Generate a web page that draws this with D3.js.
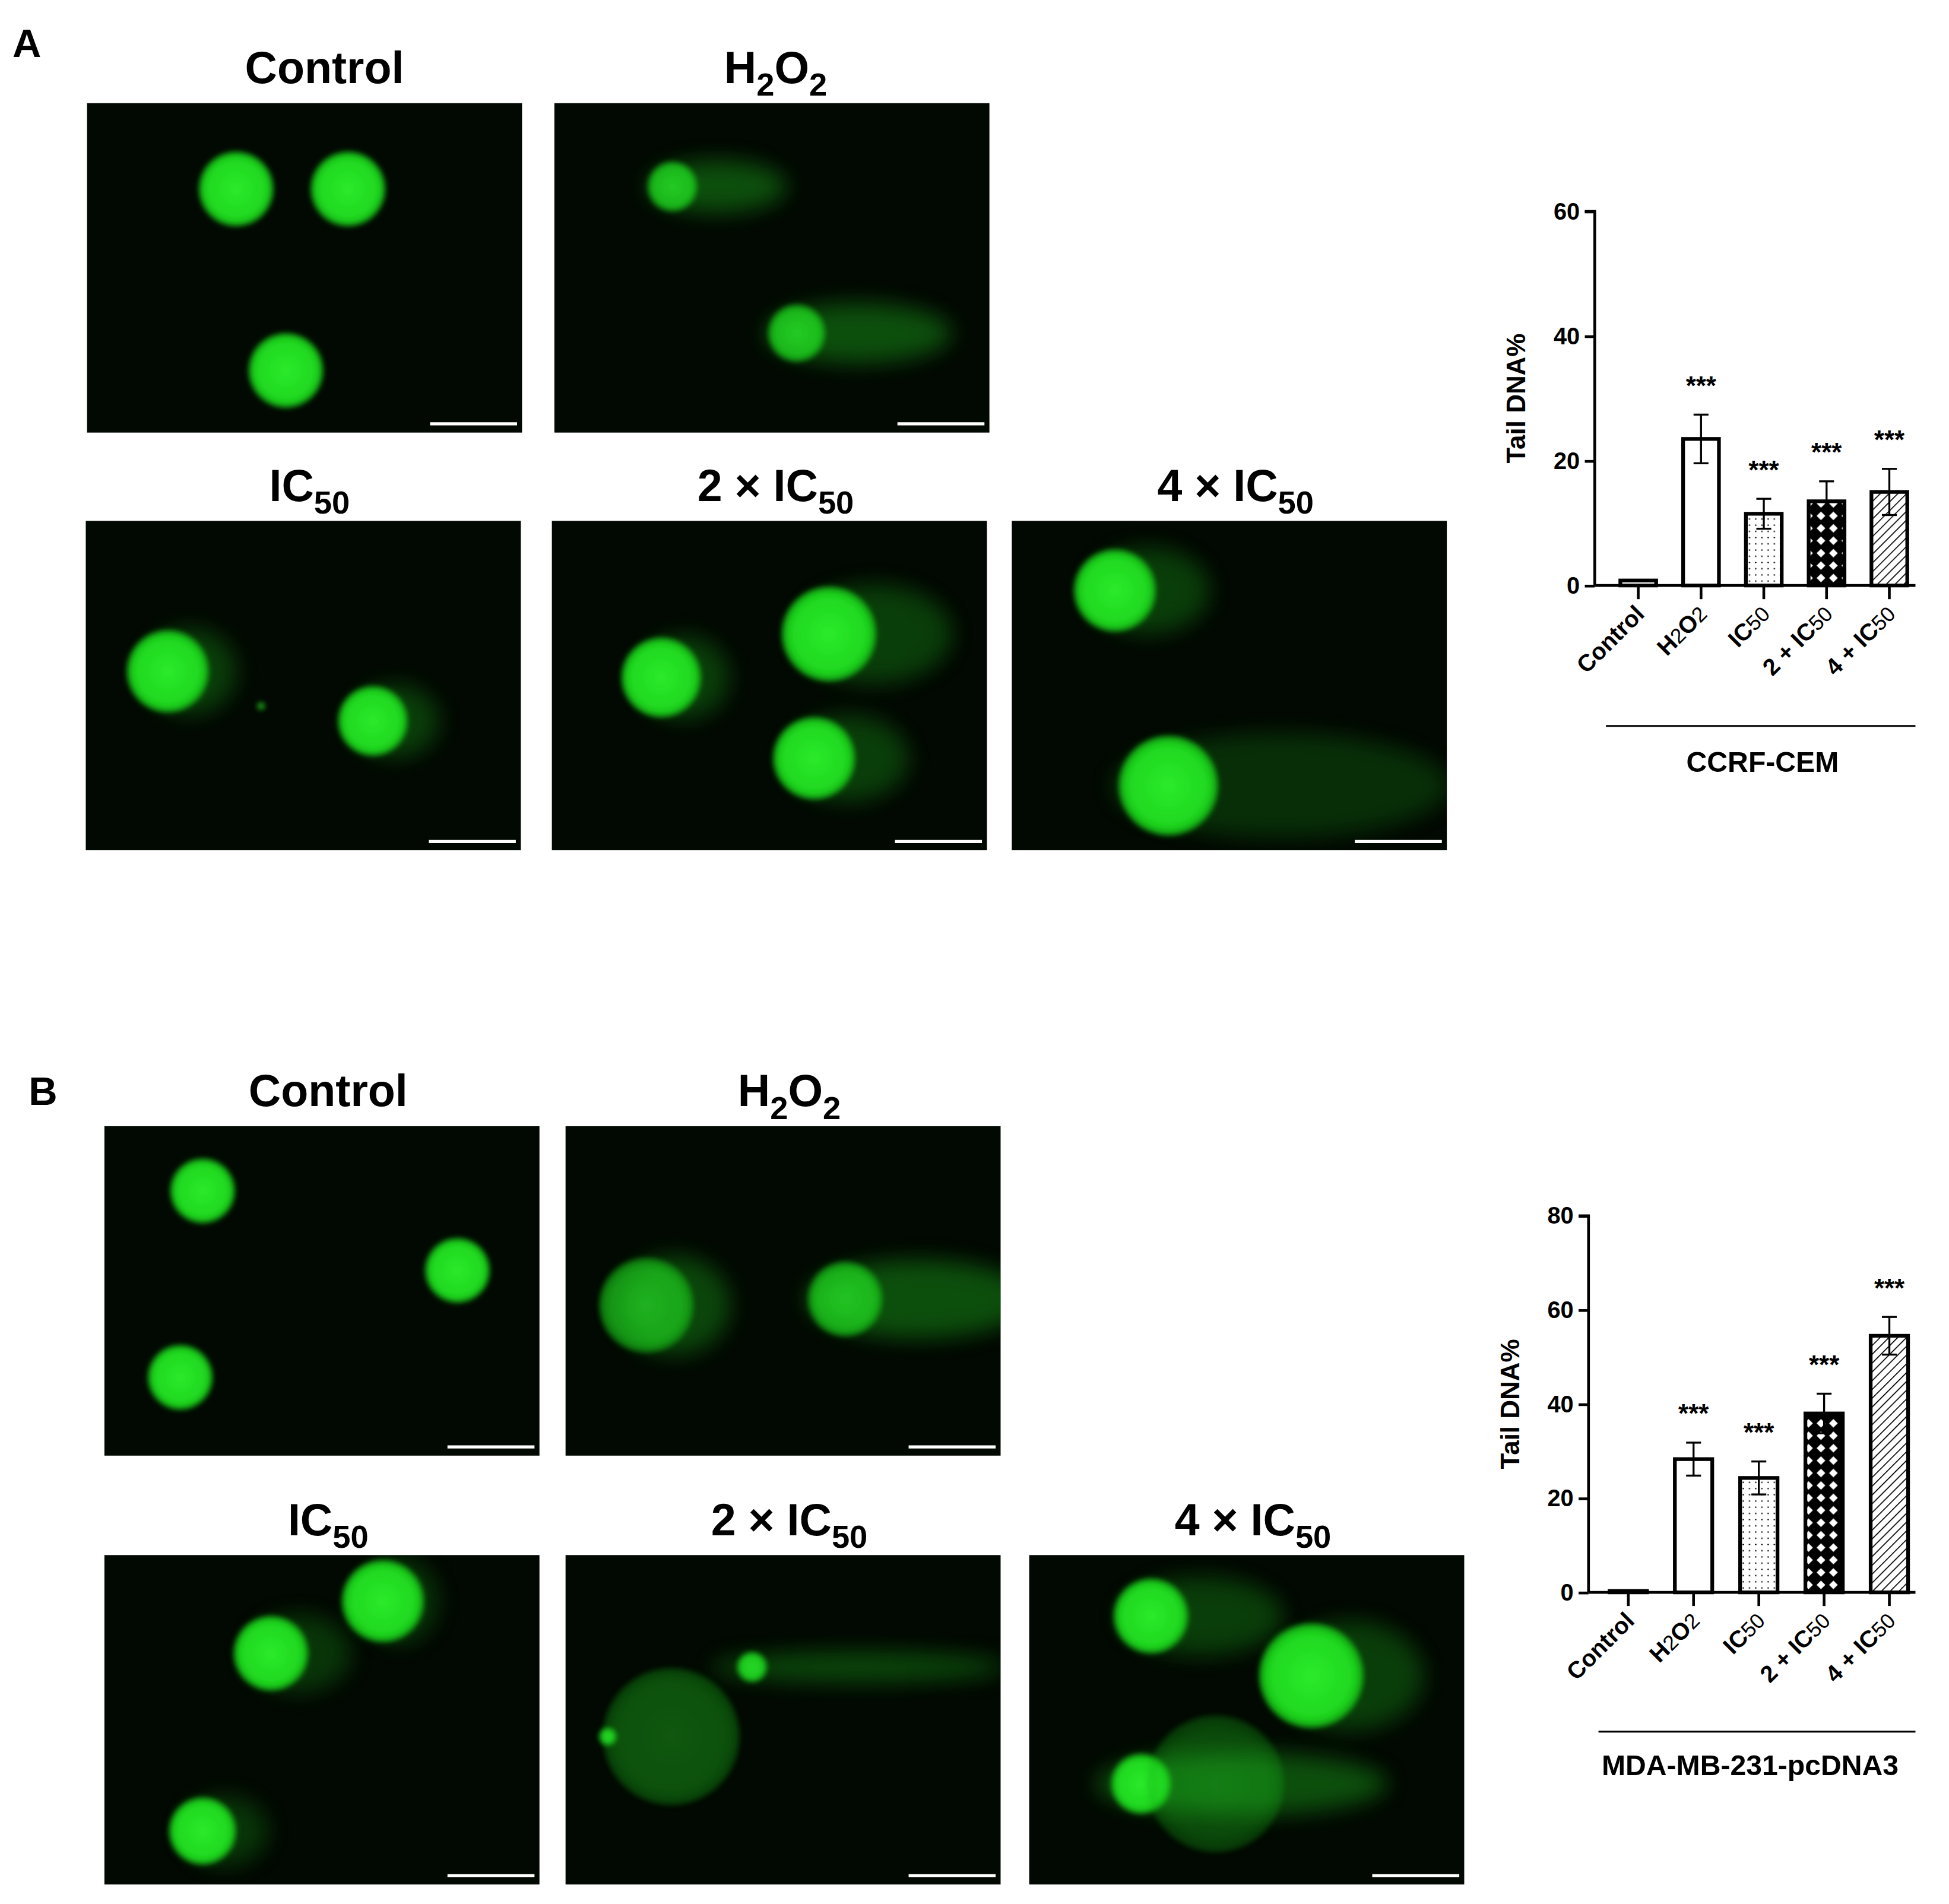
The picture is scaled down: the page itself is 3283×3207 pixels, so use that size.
<!DOCTYPE html>
<html><head><meta charset="utf-8">
<script src="https://cdn.jsdelivr.net/npm/d3@7"></script>
<style>body{margin:0;background:#fff}text{font-family:"Liberation Sans",Arial,sans-serif;font-weight:bold}</style>
</head><body>
<script>
// ---------- data ----------
const categories = ["Control","H2O2","IC50","2 × IC50","4 × IC50"];
const valuesA = [0.8, 23.5, 11.5, 13.5, 15.0];
const errorsA = [0.2, 3.9, 2.4, 3.2, 3.7];
const valuesB = [0.3, 28.3, 24.3, 38.0, 54.5];
const errorsB = [0.1, 3.5, 3.5, 4.2, 4.0];
const signif = ["", "***", "***", "***", "***"];
const ticksA = [0, 20, 40, 60];
const ticksB = [0, 20, 40, 60, 80];
const groupA = "CCRF-CEM";
const groupB = "MDA-MB-231-pcDNA3";
const patterns = ["none","none","dots","cross","hatch"];

// micrograph cells: [cx, cy, r, tailLen, headOpacity, tailOpacity] in image-local px (image 350x265)
const micro = {
 A: [
  {title:"Control", cells:[[120,69,30,0,1,0],[210,69,30,0,1,0],[160,215,30,0,1,0]]},
  {title:"H2O2", cells:[[95,67,20,80,0.8,0.4],[195,185,23,110,0.8,0.4]]},
  {title:"IC50", cells:[[66,121,33,40,1,0.3],[231,161,28,40,1,0.3],[141,149,3,0,0.8,0]]},
  {title:"2 × IC50", cells:[[88,126,32,40,1,0.3],[223,91,38,80,1,0.3],[211,191,33,60,1,0.3]]},
  {title:"4 × IC50", cells:[[83,56,33,60,1,0.3],[126,213,40,200,1,0.22]]}
 ],
 B: [
  {title:"Control", cells:[[79,52,26,0,1,0],[284,116,26,0,1,0],[61,202,26,0,1,0]]},
  {title:"H2O2", cells:[[65,144,38,50,0.65,0.35],[225,139,30,130,0.75,0.4]]},
  {title:"IC50", cells:[[224,37,33,30,1,0.25],[134,79,30,50,1,0.25],[79,222,27,40,1,0.25]]},
  {title:"2 × IC50", cells:[[150,90,12,190,0.9,0.35],[85,146,55,0,0.35,0],[34,146,7,0,0.9,0]]},
  {title:"4 × IC50", cells:[[98,49,30,90,1,0.3],[227,97,42,70,1,0.3],[90,184,24,180,1,0.4],[150,184,55,0,0.3,0]]}
 ]
};
const microLayout = {
 A:[[70,83],[446,83],[69,419],[444,419],[814,419]],
 B:[[84,906],[455,906],[84,1251],[455,1251],[828,1251]]
};

// ---------- setup ----------
const W=3283,H=3207,S=W/1568;
const svg=d3.select("body").append("svg").attr("width",W).attr("height",H);
const defs=svg.append("defs");
const root=svg.append("g").attr("transform",`scale(${S})`);

defs.append("filter").attr("id","bh").attr("x","-50%").attr("y","-50%").attr("width","200%").attr("height","200%")
 .append("feGaussianBlur").attr("stdDeviation",2.2);
defs.append("filter").attr("id","bt").attr("x","-50%").attr("y","-50%").attr("width","200%").attr("height","200%")
 .append("feGaussianBlur").attr("stdDeviation",9);
const rg=defs.append("radialGradient").attr("id","head");
rg.append("stop").attr("offset","0%").attr("stop-color","#2bea2b");
rg.append("stop").attr("offset","80%").attr("stop-color","#1fd81f");
rg.append("stop").attr("offset","100%").attr("stop-color","#10a010");

let p=defs.append("pattern").attr("id","dots").attr("patternUnits","userSpaceOnUse").attr("width",5).attr("height",5);
p.append("rect").attr("width",5).attr("height",5).attr("fill","#fff");
p.append("circle").attr("cx",2.5).attr("cy",2.5).attr("r",0.6).attr("fill","#000");
p=defs.append("pattern").attr("id","cross").attr("patternUnits","userSpaceOnUse").attr("width",10).attr("height",10);
p.append("rect").attr("width",10).attr("height",10).attr("fill","#000");
p.append("path").attr("d","M5,1.5 L8.5,5 L5,8.5 L1.5,5Z").attr("fill","#fff");
p=defs.append("pattern").attr("id","hatch").attr("patternUnits","userSpaceOnUse").attr("width",5).attr("height",5).attr("patternTransform","rotate(45)");
p.append("rect").attr("width",5).attr("height",5).attr("fill","#fff");
p.append("line").attr("x1",0).attr("y1",0).attr("x2",0).attr("y2",5).attr("stroke","#000").attr("stroke-width",1.6);

// ---------- micrographs ----------
function labelText(sel,t,fs){
  const m={"H2O2":[["H",0],["2",1],["O",0],["2",1]],"IC50":[["IC",0],["50",1]],
    "2 × IC50":[["2 × IC",0],["50",1]],"4 × IC50":[["4 × IC",0],["50",1]],"Control":[["Control",0]]};
  let prevSub=false;
  (m[t]||[[t,0]]).forEach(([s,sub])=>{
    sel.append("tspan").text(s).attr("font-size",sub?fs*0.72:fs).attr("dy",sub?fs*0.28:(prevSub?-fs*0.28:0));
    prevSub=!!sub;
  });
}
["A","B"].forEach(k=>{
  micro[k].forEach((m,i)=>{
    const [x0,y0]=microLayout[k][i];
    const g=root.append("g").attr("transform",`translate(${x0},${y0})`);
    const cid=`clip${k}${i}`;
    defs.append("clipPath").attr("id",cid).append("rect").attr("width",350).attr("height",265);
    g.append("rect").attr("width",350).attr("height",265).attr("fill","#020802");
    const c=g.append("g").attr("clip-path",`url(#${cid})`);
    m.cells.forEach(([cx,cy,r,tl,ho,to])=>{
      if(tl>0) c.append("ellipse").attr("cx",cx+tl*0.45).attr("cy",cy).attr("rx",r*0.4+tl*0.6).attr("ry",r*1.05)
        .attr("fill","#1db81d").attr("opacity",to).attr("filter","url(#bt)");
      c.append("circle").attr("cx",cx).attr("cy",cy).attr("r",r).attr("fill","url(#head)").attr("opacity",ho).attr("filter","url(#bh)");
    });
    g.append("line").attr("x1",276).attr("x2",346).attr("y1",258).attr("y2",258).attr("stroke","#fff").attr("stroke-width",2.5);
    const t=root.append("text").attr("x",x0+(i<2&&k==="A"?(i===0?191:178):180)).attr("y",y0-16)
      .attr("text-anchor","middle").attr("fill","#000");
    labelText(t,m.title,36);
  });
});
root.append("text").attr("x",10).attr("y",46).attr("font-size",32).text("A");
root.append("text").attr("x",23).attr("y",889).attr("font-size",32).text("B");

// ---------- bar charts ----------
function barChart(o){
  const g=root.append("g");
  const y=d3.scaleLinear().domain([0,o.max]).range([o.y0,o.yTop]);
  const x=d3.scaleBand().domain(categories).range([o.xL,o.xR]).paddingInner(0.37).paddingOuter(o.po);
  const ax=g.append("g").attr("transform",`translate(${o.ax},0)`).call(d3.axisLeft(y).tickValues(o.ticks).tickSize(8).tickPadding(4));
  ax.select(".domain").attr("stroke-width",2.2).attr("d",`M-8,${y(o.max)}H0V${o.y0}`);
  ax.selectAll(".tick line").attr("stroke-width",2.2);
  ax.selectAll(".tick text").attr("font-size",19).attr("font-family","Liberation Sans,Arial").attr("font-weight","bold").attr("fill","#000");
  g.append("line").attr("x1",o.ax).attr("x2",o.axEnd).attr("y1",o.y0).attr("y2",o.y0).attr("stroke","#000").attr("stroke-width",2.2);
  categories.forEach((c,i)=>{
    const cx=x(c)+x.bandwidth()/2;
    g.append("line").attr("x1",cx).attr("x2",cx).attr("y1",o.y0).attr("y2",o.y0+11).attr("stroke","#000").attr("stroke-width",2.2);
    const v=o.values[i],e=o.errors[i];
    g.append("rect").attr("x",x(c)+1.5).attr("width",x.bandwidth()-3).attr("y",y(v)).attr("height",o.y0-y(v))
      .attr("fill",patterns[i]==="none"?"#fff":`url(#${patterns[i]})`).attr("stroke","#000").attr("stroke-width",3);
    if(i>0){
      g.append("line").attr("x1",cx).attr("x2",cx).attr("y1",y(v+e)).attr("y2",y(v-e)).attr("stroke","#000").attr("stroke-width",1.6);
      [v+e,v-e].forEach(q=>g.append("line").attr("x1",cx-6).attr("x2",cx+6).attr("y1",y(q)).attr("y2",y(q)).attr("stroke","#000").attr("stroke-width",1.6));
      g.append("text").attr("x",cx).attr("y",y(v+e)-16).attr("text-anchor","middle").attr("font-size",21).attr("font-weight","normal").text(signif[i]);
    }
    const t=g.append("text").attr("transform",`translate(${cx+6},${o.y0+24}) rotate(-45)`).attr("text-anchor","end").attr("font-size",19);
    const parts={"Control":[["Control",0]],"H2O2":[["H",0],["2",1],["O",0],["2",1]],"IC50":[["IC",0],["50",1]],
      "2 × IC50":[["2 + IC",0],["50",1]],"4 × IC50":[["4 + IC",0],["50",1]]}[c];
    parts.forEach(([s,sub])=>t.append("tspan").text(s).attr("font-weight",sub?"normal":"bold").attr("font-size",sub?17:19));
  });
  g.append("text").attr("transform",`translate(${o.ax-56},${(o.y0+o.yTop)/2}) rotate(-90)`).attr("text-anchor","middle")
    .attr("font-size",21).attr("font-family","Liberation Sans Narrow,Liberation Sans").text("Tail DNA%");
  g.append("line").attr("x1",o.gx1).attr("x2",o.gx2).attr("y1",o.gy).attr("y2",o.gy).attr("stroke","#000").attr("stroke-width",1.5);
  g.append("text").attr("x",o.lx).attr("y",o.ly).attr("text-anchor","middle").attr("font-size",23).text(o.group);
}
barChart({values:valuesA,errors:errorsA,ticks:ticksA,max:60,ax:1283,axEnd:1541,xL:1283,xR:1555,po:0.378,y0:471,yTop:170,
  gx1:1292,gx2:1541,gy:584,lx:1418,ly:621,group:groupA});
barChart({values:valuesB,errors:errorsB,ticks:ticksB,max:80,ax:1278,axEnd:1541,xL:1278,xR:1552,po:0.294,y0:1281,yTop:978,
  gx1:1286,gx2:1541,gy:1393,lx:1408,ly:1428,group:groupB});
</script>
</body></html>
